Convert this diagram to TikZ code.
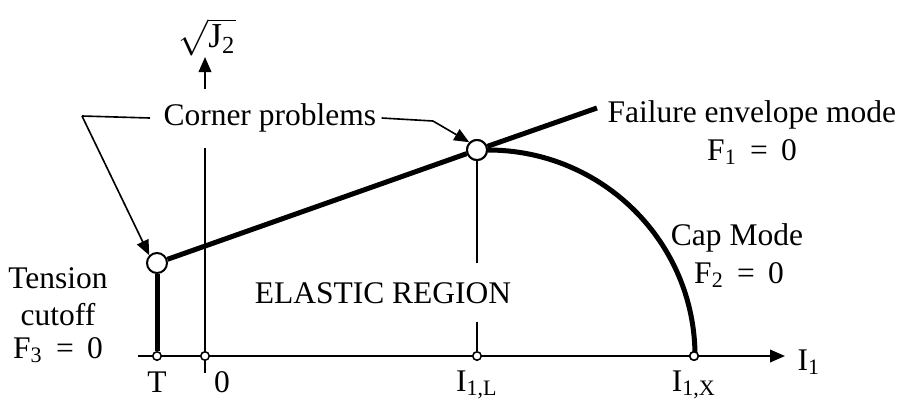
\documentclass[tikz,border=0pt]{standalone}
\usepackage{fontspec}
\setmainfont{Liberation Serif}
\usetikzlibrary{arrows.meta}
\begin{document}
\begin{tikzpicture}[x=0.4pt,y=-0.4pt,
  thinl/.style={line width=0.8pt},
  thickl/.style={line width=2pt},
  lead/.style={line width=0.65pt},
  tip/.style={-{Triangle[length=6pt,width=5pt]}},
  bigc/.style={circle,draw,fill=white,line width=0.8pt,minimum size=8pt,inner sep=0pt},
  smallc/.style={circle,draw,fill=white,line width=0.6pt,minimum size=3.4pt,inner sep=0pt},
  lbl/.style={font=\fontsize{12.6}{15}\selectfont,inner sep=0pt,align=center}]
\useasboundingbox (0,0) rectangle (904,407);
% coordinates
\coordinate (Oleft) at (138,356);
\coordinate (Xtip) at (785,356);
\coordinate (Obot) at (205,373);
\coordinate (Ylow) at (205,148);
\coordinate (Yhigh) at (205,89);
\coordinate (Ytip) at (205,57);
\coordinate (Lbot) at (477,322);
\coordinate (Ltop) at (477,263);
\coordinate (Eend) at (597,108);
% axes
\draw[thinl,tip] (Oleft) -- (Xtip);
\draw[thinl] (Obot) -- (Ylow);
\draw[thinl,tip] (Yhigh) -- (Ytip);
% axis points
\node[smallc] (pT) at (157,356) {};
\node[smallc] (p0) at (205,356) {};
\node[smallc] (pL) at (477,356) {};
\node[smallc] (pX) at (694,356) {};
% corner circles
\node[bigc] (cT) at (157,263) {};
\node[bigc] (cL) at (477,150) {};
% vertical line at I1,L
\draw[thinl] (cL) -- (Ltop);
\draw[thinl] (Lbot) -- (pL);
% tension cutoff
\draw[thickl] (pT) -- (cT);
% envelope
\draw[thickl] (cT) -- (cL);
\draw[thickl] (cL) -- (Eend);
% cap
\draw[thickl] (cL.east) arc[start angle=-90,end angle=0,x radius=207,y radius=206];
\node[bigc] at (cL) {};
\node[smallc] at (pX) {};
% labels
\node[lbl] (yl) at (207,37) {\fontsize{14}{16}\selectfont$\sqrt{\hbox{J\textsubscript{2}}}$};
\node[lbl,anchor=west] (cp) at (163,118) {Corner problems};
\node[lbl,anchor=west] (fe) at (607,115) {Failure envelope mode};
\node[lbl] (f1) at (752,152) {F\textsubscript{1} \,=\, 0};
\node[lbl] (cm) at (737,238) {Cap Mode};
\node[lbl] (f2) at (739,275) {F\textsubscript{2} \,=\, 0};
\node[lbl] (tc) at (58,278) {Tension};
\node[lbl] (co) at (58,315) {cutoff};
\node[lbl] (f3) at (58,350) {F\textsubscript{3} \,=\, 0};
\node[lbl] (er) at (383,293) {ELASTIC REGION};
\node[lbl] (lT) at (157,382) {T};
\node[lbl] (l0) at (222,382) {0};
\node[lbl] (lL) at (477,385) {I\textsubscript{1,L}};
\node[lbl] (lX) at (694,385) {I\textsubscript{1,X}};
\node[lbl,anchor=west] (lI) at (797,362) {I\textsubscript{1}};
% leaders
\coordinate (kL) at (82,116);
\coordinate (kR) at (433,121);
\draw[lead] (cp.west) ++(-13,0) -- (kL);
\draw[lead,tip] (kL) -- (cT.north west);
\draw[lead] (cp.east) ++(5,0) -- (kR);
\draw[lead,tip] (kR) -- (cL.north west);
\end{tikzpicture}
\end{document}
